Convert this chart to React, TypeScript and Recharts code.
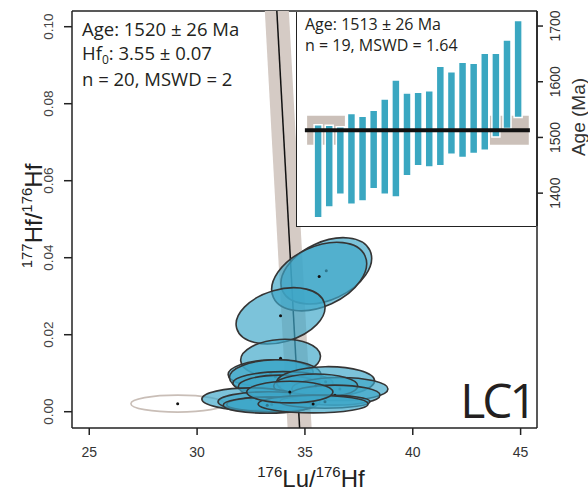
import React from 'react'
import {
  ComposedChart,
  Scatter,
  Line,
  Bar,
  XAxis,
  YAxis,
  ReferenceLine,
  ReferenceArea,
  Label,
} from 'recharts'

// ---- isochron (main panel) ----
// ellipse centres (176Lu/176Hf, 177Hf/176Hf), half extents and error correlation
const ellX = [35.99, 35.66, 33.87, 33.87, 33.41, 33.63, 33.98, 33.84, 35.96, 36.62, 35.5, 32.49, 33.33, 33.46, 33.25, 36.39, 35.93, 35.38, 34.3]
const ellY = [0.0366, 0.0351, 0.0249, 0.0139, 0.01, 0.0091, 0.0074, 0.0065, 0.0078, 0.0059, 0.0067, 0.0033, 0.0026, 0.0019, 0.0017, 0.0043, 0.0026, 0.002, 0.0051]
const ellSx = [2.1, 2.2, 2.06, 1.85, 1.97, 2.13, 2.32, 1.93, 2.27, 2.23, 1.95, 2.27, 2.36, 2.09, 2.04, 2.09, 2.09, 2.55, 2.0]
const ellSy = [0.0086, 0.0089, 0.0073, 0.0049, 0.0035, 0.0044, 0.003, 0.003, 0.0039, 0.003, 0.0031, 0.0029, 0.0026, 0.0019, 0.0021, 0.0026, 0.0017, 0.0023, 0.0028]
const ellRho = [0.38, 0.38, 0.3, 0.1, 0.1, 0.05, 0, 0, 0.05, 0, 0, 0, 0, 0, 0, 0, 0, 0, 0]

// excluded analysis (open grey ellipse)
const rejX = [29.1]
const rejY = [0.0021]
const rejSx = [2.17]
const rejSy = [0.0022]

// isochron line read at the bottom and top of the frame
const isoX = [34.81, 33.64]
const isoY = [-0.01, 0.11]

const xTicks = [25, 30, 35, 40, 45]
const yTicks = [0, 0.02, 0.04, 0.06, 0.08, 0.1]

// ---- weighted mean inset ----
const grainNo = [1, 2, 3, 4, 5, 6, 7, 8, 9, 10, 11, 12, 13, 14, 15, 16, 17, 18, 19]
const ageLow = [1356, 1375, 1398, 1380, 1386, 1408, 1398, 1393, 1431, 1449, 1447, 1449, 1470, 1464, 1471, 1477, 1501, 1516, 1536]
const ageHigh = [1523, 1522, 1519, 1543, 1538, 1549, 1569, 1603, 1580, 1581, 1584, 1628, 1618, 1635, 1633, 1651, 1651, 1675, 1710]
const meanAge = 1513
const meanErr = 26
const ageTicks = [1400, 1500, 1600, 1700]

// layout
const W = 588
const H = 499
const PL = 72
const PR = 537
const PT = 11
const PB = 428
const X_MIN = 24.2
const X_MAX = 45.76
const Y_MIN = -0.00423
const Y_MAX = 0.10408
const KX = (PR - PL) / (X_MAX - X_MIN)
const KY = (PB - PT) / (Y_MAX - Y_MIN)

const IN_L = 297
const IN_B = 226
const IN_X_MIN = -0.86
const IN_X_MAX = 20.74
const AGE_MIN = 1341
const AGE_MAX = 1727

const ellipses = ellX.map((x, i) => ({ x, y: ellY[i], sx: ellSx[i], sy: ellSy[i], rho: ellRho[i] }))
const rejected = rejX.map((x, i) => ({ x, y: rejY[i], sx: rejSx[i], sy: rejSy[i], rho: 0 }))
const isochron = isoX.map((x, i) => ({ x, y: isoY[i] }))
const grains = grainNo.map((n, i) => ({ n, range: [ageLow[i], ageHigh[i]] }))

const sans = '"Liberation Sans", Arial, sans-serif'
const myriad = '"Open Sans", "Noto Sans", sans-serif'

function ellipseGeom(p: any) {
  const a = p.sx * KX
  const b = p.sy * KY
  const c = -p.rho * a * b
  const m = (a * a + b * b) / 2
  const d = Math.sqrt(((a * a - b * b) / 2) ** 2 + c * c)
  const rx = Math.sqrt(m + d)
  const ry = Math.sqrt(Math.max(m - d, 0.01))
  const ang = (0.5 * Math.atan2(2 * c, a * a - b * b) * 180) / Math.PI
  return { rx, ry, ang }
}

function ErrorEllipse(props: any) {
  const { cx, cy, payload } = props
  const { rx, ry, ang } = ellipseGeom(payload)
  return (
    <g>
      <ellipse
        cx={cx}
        cy={cy}
        rx={rx}
        ry={ry}
        transform={`rotate(${ang} ${cx} ${cy})`}
        fill="#3ea6c8"
        fillOpacity={0.68}
        stroke="#353535"
        strokeWidth={1.6}
      />
      <circle cx={cx} cy={cy} r={1.5} fill="#111" />
    </g>
  )
}

function RejectedEllipse(props: any) {
  const { cx, cy, payload } = props
  const { rx, ry, ang } = ellipseGeom(payload)
  return (
    <g>
      <ellipse cx={cx} cy={cy} rx={rx} ry={ry} transform={`rotate(${ang} ${cx} ${cy})`} fill="#fff" stroke="#c9beb7" strokeWidth={1.6} />
      <circle cx={cx} cy={cy} r={1.5} fill="#111" />
    </g>
  )
}

function YTick(props: any) {
  const { y, payload } = props
  return (
    <text x={49} y={y} transform={`rotate(-90 49 ${y})`} textAnchor="middle" dominantBaseline="central" fontSize={13.5} fontFamily={sans} fill="#444">
      {Number(payload.value).toFixed(2)}
    </text>
  )
}

function AgeTick(props: any) {
  const { x, y, payload } = props
  const tx = x + 10
  return (
    <text x={tx} y={y} transform={`rotate(-90 ${tx} ${y})`} textAnchor="middle" dominantBaseline="central" fontSize={14} fontFamily={sans} fill="#333">
      {payload.value}
    </text>
  )
}

function XTitle() {
  return (
    <text x={311} y={487} textAnchor="middle" fontFamily={sans} fontSize={24} fill="#222">
      <tspan fontSize={15} dy={-10}>176</tspan>
      <tspan dy={10}>Lu/</tspan>
      <tspan fontSize={15} dy={-10}>176</tspan>
      <tspan dy={10}>Hf</tspan>
    </text>
  )
}

function YTitle() {
  return (
    <text x={42} y={216} transform="rotate(-90 42 216)" textAnchor="middle" fontFamily={sans} fontSize={24} fill="#222">
      <tspan fontSize={15} dy={-10}>177</tspan>
      <tspan dy={10}>Hf/</tspan>
      <tspan fontSize={15} dy={-10}>176</tspan>
      <tspan dy={10}>Hf</tspan>
    </text>
  )
}

function AgeTitle() {
  return (
    <text x={281} y={117} transform="rotate(-90 281 117)" textAnchor="middle" dominantBaseline="central" fontFamily={sans} fontSize={19} fill="#333">
      Age (Ma)
    </text>
  )
}

const frame = { stroke: '#222', strokeWidth: 1.5 }

export default function App() {
  return (
    <div style={{ position: 'absolute', left: 0, top: 0, width: W, height: H, background: '#fff' }}>
      <div style={{ position: 'absolute', left: 0, top: 0 }}>
        <ComposedChart width={W} height={H} margin={{ top: PT, right: W - PR, bottom: H - PB - 60, left: 0 }}>
          <XAxis
            type="number"
            dataKey="x"
            domain={[X_MIN, X_MAX]}
            ticks={xTicks}
            allowDataOverflow
            height={60}
            axisLine={frame}
            tickLine={frame}
            tickSize={7}
            tickMargin={12}
            tick={{ fill: '#333', fontSize: 14, fontFamily: sans }}
          >
            <Label content={XTitle} />
          </XAxis>
          <YAxis
            type="number"
            dataKey="y"
            domain={[Y_MIN, Y_MAX]}
            ticks={yTicks}
            allowDataOverflow
            width={PL}
            axisLine={frame}
            tickLine={frame}
            tickSize={8}
            tick={YTick}
          >
            <Label content={YTitle} />
          </YAxis>
          <ReferenceLine x={X_MAX} {...frame} />
          <ReferenceLine y={Y_MAX} {...frame} />
          <Line data={isochron} dataKey="y" stroke="#d5cbc5" strokeWidth={24} dot={false} activeDot={false} isAnimationActive={false} />
          <Line data={isochron} dataKey="y" stroke="#111" strokeWidth={1.5} dot={false} activeDot={false} isAnimationActive={false} />
          <Scatter data={rejected} dataKey="y" shape={RejectedEllipse} isAnimationActive={false} />
          <Scatter data={ellipses} dataKey="y" shape={ErrorEllipse} isAnimationActive={false} />
        </ComposedChart>
      </div>

      <div
        style={{
          position: 'absolute',
          left: IN_L - 0.75,
          top: PT + 0.75,
          width: PR - 0.75 - (IN_L - 0.75),
          height: IN_B + 0.75 - (PT + 0.75),
          boxSizing: 'border-box',
          background: '#fff',
          borderLeft: '1.5px solid #222',
          borderBottom: '1.5px solid #222',
        }}
      />

      <div style={{ position: 'absolute', left: IN_L, top: 0 }}>
        <ComposedChart width={W - IN_L} height={240} data={grains} margin={{ top: PT, right: 0, bottom: 240 - IN_B, left: 0 }}>
          <XAxis type="number" dataKey="n" domain={[IN_X_MIN, IN_X_MAX]} allowDataOverflow hide height={0} />
          <YAxis
            orientation="right"
            type="number"
            domain={[AGE_MIN, AGE_MAX]}
            ticks={ageTicks}
            allowDataOverflow
            width={W - PR}
            axisLine={frame}
            tickLine={frame}
            tickSize={6}
            tickMargin={2}
            tick={AgeTick}
          >
            <Label content={AgeTitle} />
          </YAxis>
          <ReferenceArea x1={0.05} x2={3.45} y1={meanAge - meanErr} y2={meanAge + meanErr} fill="#cbc0b9" fillOpacity={1} stroke="none" />
          <ReferenceArea x1={16.5} x2={20.0} y1={meanAge - meanErr} y2={meanAge + meanErr} fill="#cbc0b9" fillOpacity={1} stroke="none" />
          <Bar dataKey="range" fill="#3aa7c1" stroke="#fff" strokeWidth={1.5} barSize={8} isAnimationActive={false} />
          <ReferenceLine segment={[{ x: -0.15, y: meanAge }, { x: 20.1, y: meanAge }]} stroke="#111" strokeWidth={4} />
        </ComposedChart>
      </div>

      <div style={{ position: 'absolute', left: 82, top: 17, fontFamily: myriad, fontSize: 18.5, lineHeight: '23.5px', color: '#231f20', whiteSpace: 'nowrap' }}>
        <div>Age: 1520 ± 26 Ma</div>
        <div>
          Hf<span style={{ fontSize: 12, position: 'relative', top: 4 }}>0</span>: 3.55 ± 0.07
        </div>
        <div>n = 20, MSWD = 2</div>
      </div>

      <div style={{ position: 'absolute', left: 305, top: 14, fontFamily: myriad, fontSize: 16, lineHeight: '21px', color: '#231f20', whiteSpace: 'nowrap' }}>
        <div>Age: 1513 ± 26 Ma</div>
        <div>n = 19, MSWD = 1.64</div>
      </div>

      <div style={{ position: 'absolute', right: W - 534, top: 374.6, fontFamily: myriad, fontSize: 48, lineHeight: '50px', letterSpacing: -3, color: '#231f20' }}>
        LC1
      </div>
    </div>
  )
}
